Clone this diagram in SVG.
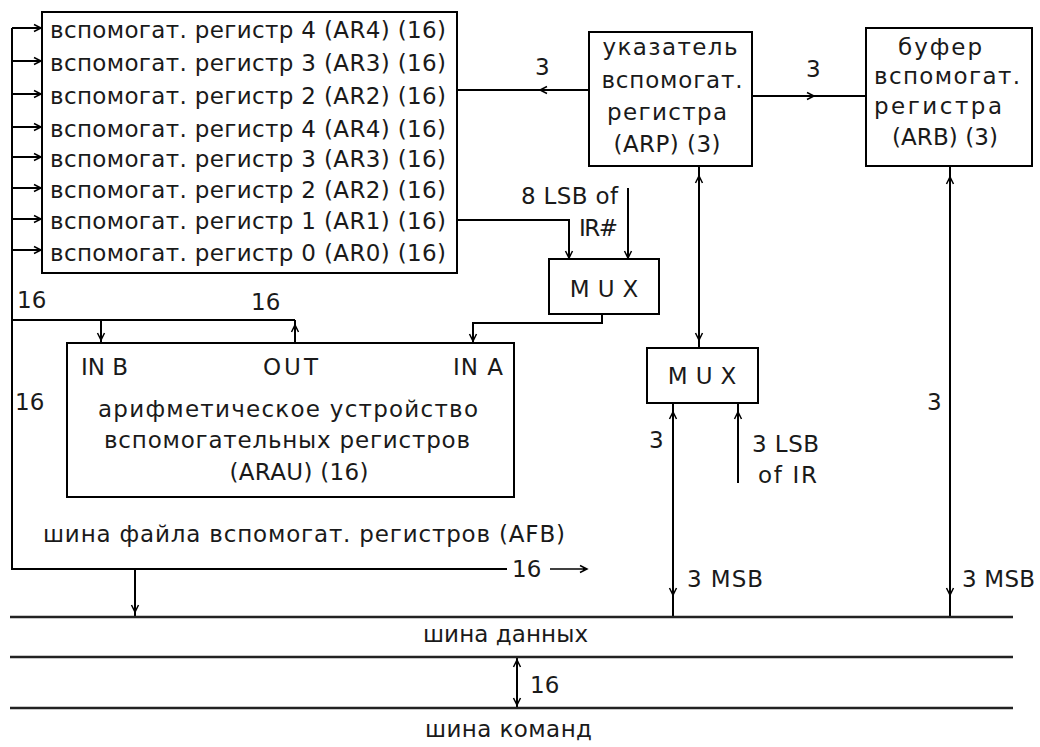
<svg xmlns="http://www.w3.org/2000/svg" xmlns:xlink="http://www.w3.org/1999/xlink" width="1040" height="747" viewBox="0 0 1040 747">
<style>
text{font-family:"DejaVu Sans","Liberation Sans",sans-serif;font-size:23px;fill:#1a1a1a}
.box{fill:#fff;stroke:#000;stroke-width:2}
.ln{fill:none;stroke:#000;stroke-width:2}
.thin{fill:none;stroke:#000;stroke-width:1.5}
.bus{fill:none;stroke:#222;stroke-width:2.5}
.mid{text-anchor:middle}
.end{text-anchor:end}
.mux{letter-spacing:8px}
</style>
<defs>
<g id="ah"><path d="M-3.5,-7 L0,0 L3.5,-7" fill="none" stroke="#000" stroke-width="1.5"/><path d="M-1.8,-4 L0,0 L1.8,-4Z" fill="#000"/></g>
</defs>
<rect width="1040" height="747" fill="#fff"/>

<g id="connectors">
<path class="ln" d="M12,28 V569 H507"/>
<path class="ln" d="M12,28 H42 M12,61 H42 M12,94 H42 M12,127 H42 M12,157 H42 M12,188 H42 M12,219 H42 M12,250 H42"/>
<use xlink:href="#ah" href="#ah" transform="translate(41,28) rotate(-90)"/>
<use xlink:href="#ah" href="#ah" transform="translate(41,61) rotate(-90)"/>
<use xlink:href="#ah" href="#ah" transform="translate(41,94) rotate(-90)"/>
<use xlink:href="#ah" href="#ah" transform="translate(41,127) rotate(-90)"/>
<use xlink:href="#ah" href="#ah" transform="translate(41,157) rotate(-90)"/>
<use xlink:href="#ah" href="#ah" transform="translate(41,188) rotate(-90)"/>
<use xlink:href="#ah" href="#ah" transform="translate(41,219) rotate(-90)"/>
<use xlink:href="#ah" href="#ah" transform="translate(41,250) rotate(-90)"/>

<path class="ln" d="M457,90 H589"/>
<use xlink:href="#ah" href="#ah" transform="translate(540,90) rotate(90)"/>
<path class="ln" d="M752,96 H866"/>
<use xlink:href="#ah" href="#ah" transform="translate(814,96) rotate(-90)"/>

<path class="ln" d="M457,220 H569 V259"/>
<use xlink:href="#ah" href="#ah" transform="translate(569,258)"/>
<path class="ln" d="M628,188 V259"/>
<use xlink:href="#ah" href="#ah" transform="translate(628,258)"/>
<path class="ln" d="M602,314 V323 H473 V343"/>
<use xlink:href="#ah" href="#ah" transform="translate(473,341)"/>

<path class="ln" d="M699,166 V348"/>
<use xlink:href="#ah" href="#ah" transform="translate(699,176) rotate(180)"/>
<use xlink:href="#ah" href="#ah" transform="translate(699,340)"/>

<path class="ln" d="M673,617 V403"/>
<use xlink:href="#ah" href="#ah" transform="translate(673,412) rotate(180)"/>
<use xlink:href="#ah" href="#ah" transform="translate(673,595)"/>
<path class="ln" d="M738,483 V403"/>
<use xlink:href="#ah" href="#ah" transform="translate(738,412) rotate(180)"/>

<path class="ln" d="M950,166 V617"/>
<use xlink:href="#ah" href="#ah" transform="translate(950,177) rotate(180)"/>
<use xlink:href="#ah" href="#ah" transform="translate(950,595)"/>

<path class="ln" d="M12,320 H295"/>
<path class="ln" d="M101,320 V343"/>
<use xlink:href="#ah" href="#ah" transform="translate(101,340)"/>
<path class="ln" d="M295,343 V320"/>
<use xlink:href="#ah" href="#ah" transform="translate(295,325) rotate(180)"/>

<path class="ln" d="M135,569 V617"/>
<use xlink:href="#ah" href="#ah" transform="translate(135,612)"/>

<path class="ln" d="M517,657 V708"/>
<use xlink:href="#ah" href="#ah" transform="translate(517,660) rotate(180)"/>
<use xlink:href="#ah" href="#ah" transform="translate(517,705)"/>

<path class="thin" d="M550,569 H586"/>
<use xlink:href="#ah" href="#ah" transform="translate(587,569) rotate(-90)"/>

<text x="535" y="75">3</text>
<text x="806" y="77">3</text>
<text x="618" y="204" class="end" textLength="97">8 LSB of</text>
<text x="618" y="236" class="end" textLength="39">IR#</text>
<text x="17" y="308">16</text>
<text x="251" y="310">16</text>
<text x="15" y="410">16</text>
<text x="649" y="448">3</text>
<text x="752" y="452" textLength="67">3 LSB</text>
<text x="758" y="483" textLength="59">of IR</text>
<text x="927" y="410">3</text>
<text x="512" y="577">16</text>
<text x="687" y="587" textLength="76">3 MSB</text>
<text x="962" y="587" textLength="73">3 MSB</text>
<text x="530" y="693">16</text>
</g>

<g id="registers">
<rect class="box" x="42" y="12" width="415" height="261"/>
<text x="50" y="38" textLength="396">вспомогат. регистр 4 (AR4) (16)</text>
<text x="50" y="71" textLength="396">вспомогат. регистр 3 (AR3) (16)</text>
<text x="50" y="104" textLength="396">вспомогат. регистр 2 (AR2) (16)</text>
<text x="50" y="137" textLength="396">вспомогат. регистр 4 (AR4) (16)</text>
<text x="50" y="167" textLength="396">вспомогат. регистр 3 (AR3) (16)</text>
<text x="50" y="198" textLength="396">вспомогат. регистр 2 (AR2) (16)</text>
<text x="50" y="229" textLength="396">вспомогат. регистр 1 (AR1) (16)</text>
<text x="50" y="261" textLength="396">вспомогат. регистр 0 (AR0) (16)</text>
</g>

<g id="arp">
<rect class="box" x="589" y="32" width="163" height="134"/>
<text x="670" y="55" class="mid" textLength="135">указатель</text>
<text x="672" y="88" class="mid" textLength="141">вспомогат.</text>
<text x="667" y="120" class="mid" textLength="120">регистра</text>
<text x="667" y="152" class="mid" textLength="107">(ARP) (3)</text>
</g>

<g id="arb">
<rect class="box" x="866" y="28" width="166" height="138"/>
<text x="940" y="55" class="mid" textLength="84">буфер</text>
<text x="947" y="84" class="mid" textLength="146">вспомогат.</text>
<text x="938" y="114" class="mid" textLength="128">регистра</text>
<text x="945" y="145" class="mid" textLength="106">(ARB) (3)</text>
</g>

<g id="mux1">
<rect class="box" x="549" y="259" width="110" height="55"/>
<text x="608" y="297" class="mid mux">MUX</text>
</g>

<g id="mux2">
<rect class="box" x="647" y="348" width="111" height="55"/>
<text x="706" y="384" class="mid mux">MUX</text>
</g>

<g id="arau">
<rect class="box" x="67" y="343" width="447" height="154"/>
<text x="81" y="375" textLength="47">IN B</text>
<text x="263" y="375" textLength="55">OUT</text>
<text x="453" y="375" textLength="50">IN A</text>
<text x="288" y="417" class="mid" textLength="380">арифметическое устройство</text>
<text x="287" y="448" class="mid" textLength="366">вспомогательных регистров</text>
<text x="299" y="480" class="mid" textLength="139">(ARAU) (16)</text>
</g>

<g id="afb">
<text x="43" y="542" textLength="522">шина файла вспомогат. регистров (AFB)</text>
</g>

<g id="data-bus">
<path class="bus" d="M10,617 H1013"/>
<text x="423" y="642" textLength="165">шина данных</text>
</g>

<g id="cmd-bus">
<path class="bus" d="M10,657 H1013"/>
<path class="bus" d="M10,708 H1013"/>
<text x="425" y="737" textLength="167">шина команд</text>
</g>
</svg>
